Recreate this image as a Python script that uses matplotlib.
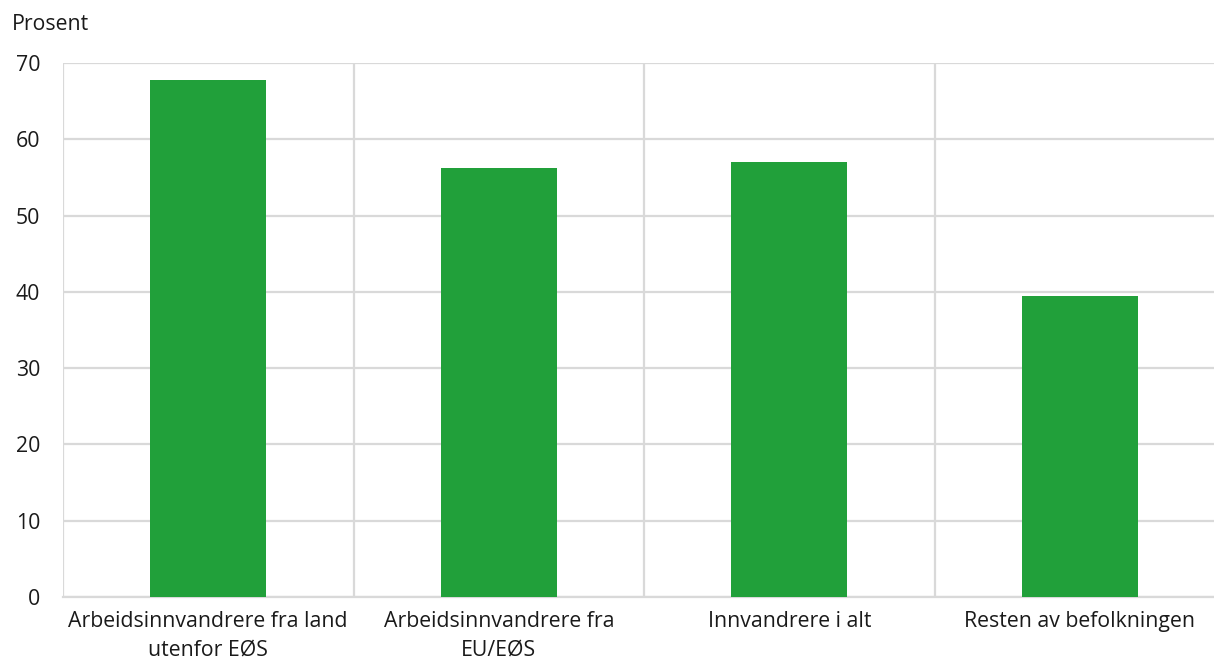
import matplotlib
matplotlib.use("Agg")
import matplotlib.pyplot as plt
import numpy as np

categories = [
    "Arbeidsinnvandrere fra land\nutenfor EØS",
    "Arbeidsinnvandrere fra\nEU/EØS",
    "Innvandrere i alt",
    "Resten av befolkningen",
]
values = [67.8, 56.2, 57.0, 39.4]
yticks = [0, 10, 20, 30, 40, 50, 60, 70]

BAR = "#21a03a"
GRID = "#d9d9d9"
TXT = "#1a1a1a"
FS = 15.3

plt.rcParams["font.family"] = ["Open Sans", "DejaVu Sans"]

fig = plt.figure(figsize=(12.14, 6.59), dpi=100)
W, H = 1214, 659
ax = fig.add_axes([63 / W, 1 - 597 / H, (1225 - 63) / W, (597 - 63) / H])

x = np.arange(len(categories))
ax.bar(x, values, width=0.4, color=BAR, zorder=3)

ax.set_xlim(-0.5, len(categories) - 0.5)
ax.set_ylim(0, 70)
ax.set_yticks(yticks)
ax.set_yticklabels([str(t) for t in yticks], fontsize=FS, color=TXT)
ax.set_xticks(x)
ax.set_xticklabels(categories, fontsize=FS, color=TXT, linespacing=1.5)
ax.set_xticks(np.arange(-0.5, len(categories)), minor=True)

ax.grid(axis="y", which="major", color=GRID, lw=1.6, zorder=0)
ax.grid(axis="x", which="minor", color=GRID, lw=1.6, zorder=0)
ax.tick_params(axis="both", which="both", length=0)
ax.tick_params(axis="y", pad=16.5)
ax.tick_params(axis="x", pad=10)
for side in ["top", "right", "left"]:
    ax.spines[side].set_visible(False)
ax.spines["bottom"].set_color(GRID)
ax.spines["bottom"].set_linewidth(1.6)

fig.text(12 / W, 1 - 25 / H, "Prosent", fontsize=FS, color=TXT, va="center", ha="left")

fig.savefig("out.png", dpi=100)
